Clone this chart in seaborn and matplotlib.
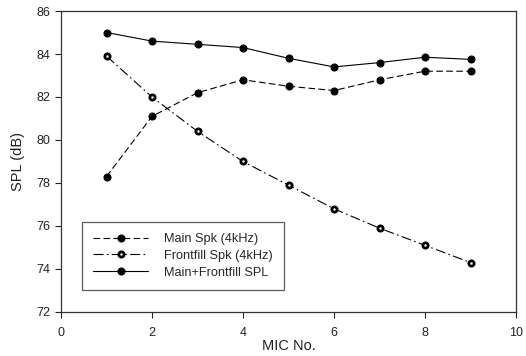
import matplotlib
matplotlib.use("Agg")
import matplotlib.pyplot as plt
import seaborn as sns
import pandas as pd

mic = [1, 2, 3, 4, 5, 6, 7, 8, 9]
main_spk = [78.3, 81.1, 82.2, 82.8, 82.5, 82.3, 82.8, 83.2, 83.2]
frontfill_spk = [83.9, 82.0, 80.4, 79.0, 77.9, 76.8, 75.9, 75.1, 74.3]
main_frontfill = [85.0, 84.6, 84.45, 84.3, 83.8, 83.4, 83.6, 83.85, 83.75]
labels = ["Main Spk (4kHz)", "Frontfill Spk (4kHz)", "Main+Frontfill SPL"]
xticks = [0, 2, 4, 6, 8, 10]
yticks = [72, 74, 76, 78, 80, 82, 84, 86]

sns.set_theme(style="ticks")
plt.rcParams["font.family"] = ["Liberation Sans", "DejaVu Sans"]

fig = plt.figure(figsize=(5.26, 3.56), dpi=100)
ax = fig.add_axes([0.116, 0.1236, 0.865, 0.8455])

df1 = pd.DataFrame({"x": mic, "y": main_spk})
df2 = pd.DataFrame({"x": mic, "y": frontfill_spk})
df3 = pd.DataFrame({"x": mic, "y": main_frontfill})

sns.lineplot(data=df1, x="x", y="y", ax=ax, color="black", lw=0.8,
             linestyle=(0, (6, 3)), marker="o", markersize=5,
             markerfacecolor="black", markeredgecolor="black", markeredgewidth=0.8,
             label=labels[0])
sns.lineplot(data=df2, x="x", y="y", ax=ax, color="black", lw=0.8,
             linestyle=(0, (9, 3, 1.5, 3)), marker="o", markersize=3.8,
             markerfacecolor="white", markeredgecolor="black", markeredgewidth=2.0,
             label=labels[1])
sns.lineplot(data=df3, x="x", y="y", ax=ax, color="black", lw=0.8,
             linestyle="-", marker="o", markersize=5,
             markerfacecolor="black", markeredgecolor="black", markeredgewidth=0.8,
             label=labels[2])

ax.set_xlim(0, 10)
ax.set_ylim(72, 86)
ax.set_xticks(xticks)
ax.set_yticks(yticks)
ax.tick_params(axis="both", direction="out", length=4, width=0.8, labelsize=9,
               colors="#222222")
ax.tick_params(axis="x", pad=7)
ax.tick_params(axis="y", pad=3.5)
for s in ax.spines.values():
    s.set_visible(True)
    s.set_color("#333333")
    s.set_linewidth(0.9)
ax.set_xlabel("MIC No.", fontsize=10.5, labelpad=0, color="#222222")
ax.set_ylabel("SPL (dB)", fontsize=10.5, labelpad=8, color="#222222")

leg = ax.legend(loc="lower left", bbox_to_anchor=(0.046, 0.073), borderaxespad=0,
                fontsize=9.2, frameon=True, fancybox=False, edgecolor="#333333",
                handlelength=4.3, labelspacing=0.37, borderpad=0.9, handletextpad=1.2)
leg.get_frame().set_linewidth(0.9)

fig.savefig("out.png", dpi=100)
